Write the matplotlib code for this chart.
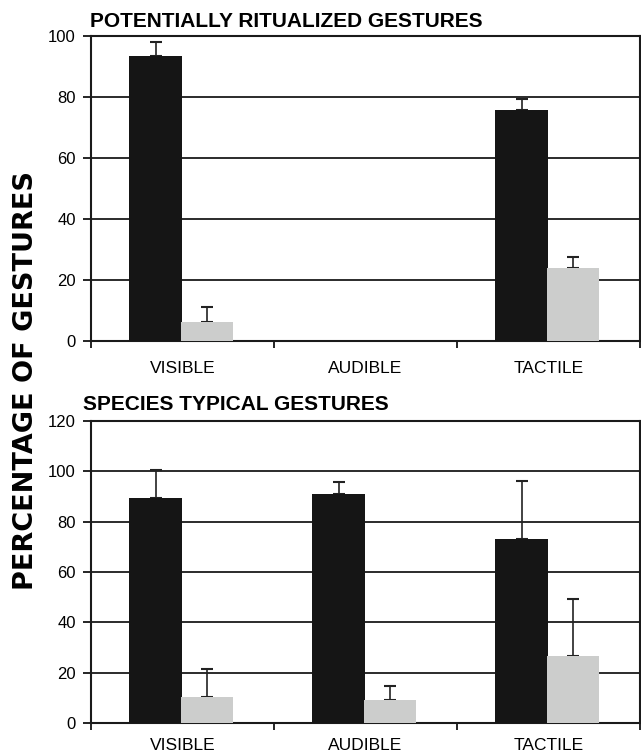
import matplotlib
matplotlib.use("Agg")
import matplotlib.pyplot as plt
import numpy as np

plt.rcParams['font.family'] = ['Liberation Sans', 'DejaVu Sans']

categories = ["VISIBLE", "AUDIBLE", "TACTILE"]

# Top panel: potentially ritualized gestures
rit_black = [93.5, 0, 75.7]
rit_black_err = [4.5, 0, 3.5]
rit_gray = [6.2, 0, 23.8]
rit_gray_err = [4.8, 0, 3.7]

# Bottom panel: species typical gestures
typ_black = [89.5, 91.0, 73.3]
typ_black_err = [11.0, 4.8, 23.0]
typ_gray = [10.5, 9.3, 26.8]
typ_gray_err = [11.0, 5.5, 22.5]

BLACK = "#151515"
GRAY = "#cccdcc"

fig = plt.figure(figsize=(6.41, 7.55), dpi=100)
ax1 = fig.add_axes([0.142, 0.5483, 0.856, 0.404])
ax2 = fig.add_axes([0.142, 0.0424, 0.856, 0.400])

def draw(ax, black, berr, gray, gerr, ymax, title, xpad, title_x, title_y):
    x = np.arange(len(categories))
    w = 0.29
    xb = x - w / 2
    xg = x + w / 2 - 0.01
    ax.bar(xb, black, width=w, color=BLACK, zorder=3)
    ax.bar(xg, gray, width=w * 0.97, color=GRAY, zorder=3)
    for xs, vals, errs in ((xb, black, berr), (xg, gray, gerr)):
        for xi, v, e in zip(xs, vals, errs):
            if v > 0:
                ax.errorbar(xi, v, yerr=[[0], [e]], fmt='none', ecolor='#222222',
                            elinewidth=1.2, capsize=4, capthick=1.5, zorder=2)
    ax.set_xlim(-0.5, 2.5)
    ax.set_ylim(0, ymax)
    ax.set_yticks(np.arange(0, ymax + 1, 20))
    ax.yaxis.grid(True, color='#1a1a1a', linewidth=1.3, zorder=0)
    ax.set_axisbelow(True)
    ax.set_xticks(x)
    ax.set_xticklabels(categories)
    ax.set_xticks([-0.5, 0.5, 1.5, 2.5], minor=True)
    ax.tick_params(axis='x', which='major', length=0, pad=xpad, labelsize=12.5)
    ax.tick_params(axis='x', which='minor', length=5, width=1.2, direction='out')
    ax.tick_params(axis='y', length=6, width=1.2, labelsize=12, pad=5)
    for s in ax.spines.values():
        s.set_linewidth(1.5)
        s.set_color('#1a1a1a')
    ax.text(title_x, title_y, title, transform=ax.transAxes, fontsize=15,
            fontweight='bold', ha='left', va='baseline')

draw(ax1, rit_black, rit_black_err, rit_gray, rit_gray_err, 100,
     "POTENTIALLY RITUALIZED GESTURES", 14.5, -0.002, 1.030)
draw(ax2, typ_black, typ_black_err, typ_gray, typ_gray_err, 120,
     "SPECIES TYPICAL GESTURES", 11, -0.014, 1.036)

fig.text(0.041, 1 - 380 / 755, "PERCENTAGE OF GESTURES", rotation=90,
         fontsize=19.5, fontweight='bold', ha='center', va='center',
         family=['DejaVu Sans'])

fig.savefig("out.png", dpi=100)
